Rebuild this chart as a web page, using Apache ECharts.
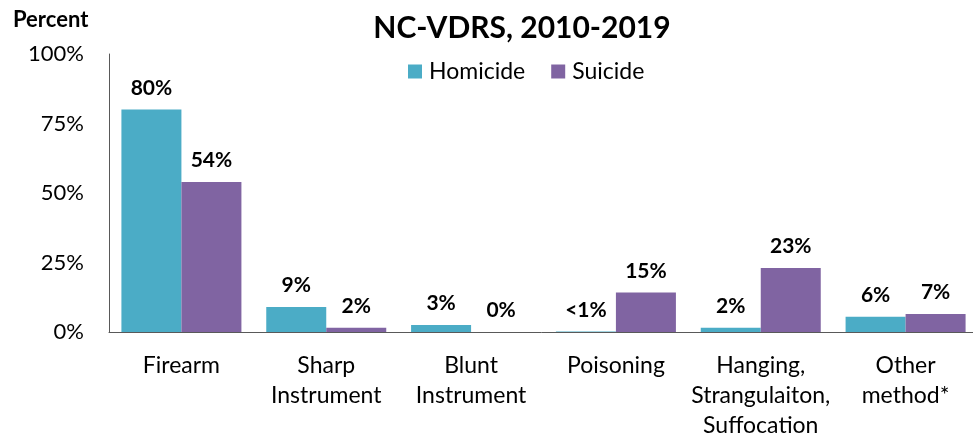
<!DOCTYPE html>
<html>
<head>
<meta charset="utf-8">
<script src="https://cdn.jsdelivr.net/npm/echarts@6/dist/echarts.min.js"></script>
<style>
  html, body { margin: 0; padding: 0; background: #fff; }
  #chart { width: 973px; height: 436px; }
</style>
</head>
<body>
<div id="chart"></div>
<script>
// categories and values
var categories = ["Firearm", "Sharp\nInstrument", "Blunt\nInstrument", "Poisoning", "Hanging,\nStrangulaiton,\nSuffocation", "Other\nmethod*"];
var homicide = [80, 9, 2.5, 0.2, 1.5, 5.5];
var suicide = [54, 1.5, 0, 14.2, 23, 6.5];
var homicideLabels = ["80%", "9%", "3%", "<1%", "2%", "6%"];
var suicideLabels = ["54%", "2%", "0%", "15%", "23%", "7%"];
var yTicks = [0, 25, 50, 75, 100];

var font = "Lato, 'Open Sans', sans-serif";

var myChart = echarts.init(document.getElementById("chart"));

function labelFor(texts) {
  return {
    show: true,
    position: "top",
    distance: 11,
    fontFamily: font,
    fontWeight: "bold",
    fontSize: 21,
    color: "#000",
    formatter: function (p) { return texts[p.dataIndex]; }
  };
}

myChart.setOption({
  animation: false,
  textStyle: { fontFamily: font },
  title: [
    {
      text: "NC-VDRS, 2010-2019",
      left: 517,
      top: 8,
      textAlign: "center",
      textStyle: { fontFamily: font, fontWeight: "bold", fontSize: 30, color: "#000" }
    },
    {
      text: "Percent",
      left: 8,
      top: 4,
      textStyle: { fontFamily: font, fontWeight: "bold", fontSize: 22, color: "#000" }
    }
  ],
  legend: {
    top: 55,
    left: 403,
    itemWidth: 14,
    itemHeight: 14,
    itemGap: 26,
    icon: "rect",
    textStyle: { fontFamily: font, fontSize: 23, color: "#000", padding: [0, 0, 0, 2] },
    data: ["Homicide", "Suicide"]
  },
  grid: { left: 109, right: -5, top: 54, bottom: 104, containLabel: false, outerBoundsMode: "none" },
  xAxis: {
    type: "category",
    data: categories,
    axisLine: { lineStyle: { color: "#595959", width: 1 } },
    axisTick: { show: false },
    axisLabel: {
      fontFamily: font,
      fontSize: 23,
      color: "#000",
      lineHeight: 30,
      margin: 19,
      interval: 0
    }
  },
  yAxis: {
    type: "value",
    min: 0,
    max: 100,
    interval: 25,
    splitLine: { show: false },
    axisLine: { show: true, lineStyle: { color: "#595959", width: 1 } },
    axisTick: { show: false },
    axisLabel: {
      fontFamily: font,
      fontSize: 22,
      color: "#000",
      margin: 25,
      formatter: function (v) { return yTicks.indexOf(v) >= 0 ? v + "%" : ""; }
    }
  },
  series: [
    {
      name: "Homicide",
      type: "bar",
      data: homicide,
      barWidth: 60,
      barGap: "0%",
      itemStyle: { color: "#4BACC6" },
      label: labelFor(homicideLabels)
    },
    {
      name: "Suicide",
      type: "bar",
      data: suicide,
      barWidth: 60,
      itemStyle: { color: "#8064A2" },
      label: labelFor(suicideLabels)
    }
  ]
});
</script>
</body>
</html>
